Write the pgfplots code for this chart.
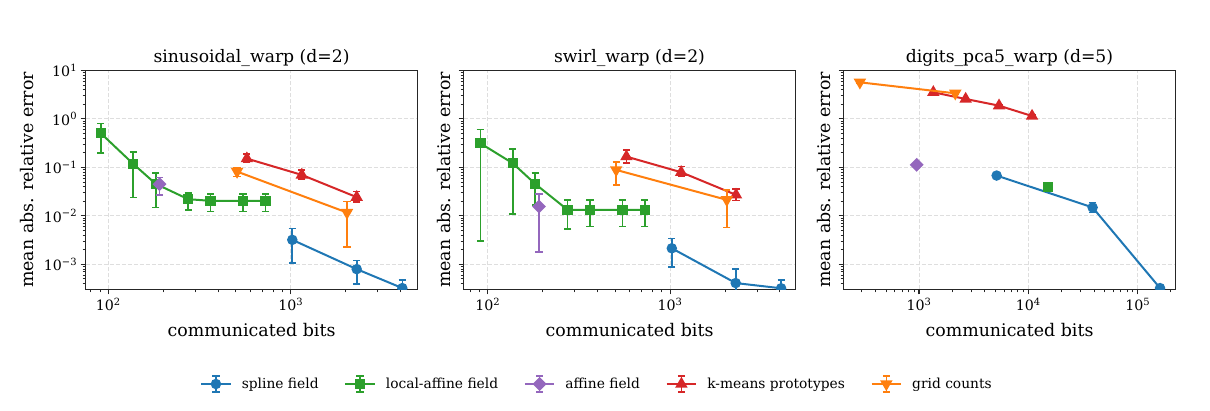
\documentclass[border=0pt]{standalone}
\usepackage{fontspec}
\setmainfont{DejaVu Serif}
\usepackage{pgfplots}
\pgfplotsset{compat=1.18}
\usepackage{pgfplotstable}

\definecolor{cblue}{HTML}{1F77B4}
\definecolor{corange}{HTML}{FF7F0E}
\definecolor{cgreen}{HTML}{2CA02C}
\definecolor{cred}{HTML}{D62728}
\definecolor{cpurple}{HTML}{9467BD}

% ---------- panel 1: sinusoidal_warp ----------
\pgfplotstableread{
x y ep em
1020 0.0032 0.00228 0.00214
2300 0.000795 0.000405 0.000405
4090 0.000323 0.000157 0.000157
}\Ablue
\pgfplotstableread{
x y ep em
91 0.506 0.304 0.310
137 0.118 0.087 0.094
182 0.0457 0.0301 0.0308
274 0.0221 0.0072 0.0088
364 0.0204 0.0076 0.0081
547 0.0204 0.0076 0.0081
727 0.0204 0.0076 0.0081
}\Agreen
\pgfplotstableread{
x y ep em
191 0.045 0.0167 0.018
}\Apurple
\pgfplotstableread{
x y ep em
575 0.152 0.035 0.022
1150 0.070 0.0188 0.013
2300 0.0243 0.0075 0.0052
}\Ared
\pgfplotstableread{
x y ep em
508 0.082 0.014 0.0173
2035 0.0117 0.0081 0.0094
}\Aorange

% ---------- panel 2: swirl_warp ----------
\pgfplotstableread{
x y ep em
1022 0.00214 0.00129 0.00125
2291 0.00041 0.00039 0.00039
4065 0.00032 0.00015 0.00015
}\Bblue
\pgfplotstableread{
x y ep em
91 0.315 0.295 0.312
137 0.122 0.115 0.111
182 0.0457 0.0303 0.029
274 0.0133 0.0077 0.0079
364 0.0133 0.0077 0.0073
547 0.0133 0.0077 0.0073
727 0.0133 0.0077 0.0073
}\Bgreen
\pgfplotstableread{
x y ep em
191 0.0156 0.0128 0.0138
}\Bpurple
\pgfplotstableread{
x y ep em
576 0.167 0.063 0.045
1150 0.0795 0.0245 0.0127
2300 0.0271 0.0089 0.0064
}\Bred
\pgfplotstableread{
x y ep em
506 0.0888 0.039 0.045
2046 0.0214 0.0126 0.0156
}\Borange

% ---------- panel 3: digits_pca5_warp ----------
\pgfplotstableread{
x y ep em
5128 0.0679 0.002 0.002
38700 0.0149 0.0041 0.0032
160000 0.000323 0.00003 0.00003
}\Cblue
\pgfplotstableread{
x y ep em
15150 0.0396 0.002 0.002
}\Cgreen
\pgfplotstableread{
x y ep em
952 0.113 0.004 0.004
}\Cpurple
\pgfplotstableread{
x y ep em
1352 3.55 0.12 0.12
2671 2.58 0.08 0.08
5394 1.88 0.06 0.06
10810 1.15 0.04 0.04
}\Cred
\pgfplotstableread{
x y ep em
288 5.70 0.15 0.15
2147 3.38 0.12 0.12
}\Corange

\pgfplotsset{
  ser/.style={line width=2pt, mark size=4.2pt, solid,
    /pgfplots/error bars/y dir=both, /pgfplots/error bars/y explicit,
    /pgfplots/error bars/error bar style={line width=1.6pt, solid},
    /pgfplots/error bars/error mark options={rotate=90, line width=1.6pt, mark size=3.6pt}},
  sblue/.style={ser, color=cblue, mark=*},
  sgreen/.style={ser, color=cgreen, mark=square*},
  spurple/.style={ser, color=cpurple, mark=square*, mark options={rotate=45}, mark size=3.9pt},
  sred/.style={ser, color=cred, mark=triangle*, mark size=5.2pt},
  sorange/.style={ser, color=corange, mark=triangle*, mark options={rotate=180}, mark size=5.2pt},
}

\begin{document}
\begin{tikzpicture}
\path[use as bounding box] (0,0) rectangle (1210pt,411pt);

\begin{axis}[at={(85.5pt,121.5pt)}, anchor=south west,
    xmode=log, ymode=log,
    scale only axis, width=332pt, height=219pt,
    ymin=3.02e-4, ymax=10,
    axis line style={line width=1.1pt, black!85},
    tick align=outside, tick pos=left,
    major tick length=4.9pt, minor tick length=2.8pt,
    major tick style={line width=1.1pt, black!85},
    minor tick style={line width=0.8pt, black!85},
    grid=major,
    major grid style={dash pattern=on 4pt off 2pt, line width=1pt, black!13},
    ytick={1e-3,1e-2,1e-1,1,10},
    minor ytick={4e-4,5e-4,6e-4,7e-4,8e-4,9e-4,2e-3,3e-3,4e-3,5e-3,6e-3,7e-3,8e-3,9e-3,2e-2,3e-2,4e-2,5e-2,6e-2,7e-2,8e-2,9e-2,0.2,0.3,0.4,0.5,0.6,0.7,0.8,0.9,2,3,4,5,6,7,8,9},
    tick label style={font=\fontsize{14.2}{17}\selectfont},
    title style={font=\fontsize{17.2}{21}\selectfont, at={(axis description cs:0.5,1)}, anchor=south, yshift=-2.5pt, inner sep=0pt},
    xlabel={communicated bits}, ylabel={mean abs. relative error},
    label style={font=\fontsize{17.4}{21}\selectfont},
    xlabel style={at={(axis description cs:0.5,-0.185)}, anchor=center, inner sep=0pt},
    clip marker paths=true,
  title={sinusoidal\_warp (d=2)},
  xmin=75.0, xmax=4955,
  xtick={100,1000}, xticklabels={10\textsuperscript{2},10\textsuperscript{3}},
  minor xtick={80,90,200,300,400,500,600,700,800,900,2000,3000,4000},
  yticklabels={10\textsuperscript{−3},10\textsuperscript{−2},10\textsuperscript{−1},10\textsuperscript{0},10\textsuperscript{1}},
  ylabel style={at={(axis description cs:-0.176,0.5)}, anchor=center, inner sep=0pt},
]
\addplot[sblue] table[x=x,y=y,y error plus=ep,y error minus=em]{\Ablue};
\addplot[sgreen] table[x=x,y=y,y error plus=ep,y error minus=em]{\Agreen};
\addplot[spurple] table[x=x,y=y,y error plus=ep,y error minus=em]{\Apurple};
\addplot[sred] table[x=x,y=y,y error plus=ep,y error minus=em]{\Ared};
\addplot[sorange] table[x=x,y=y,y error plus=ep,y error minus=em]{\Aorange};
\end{axis}

\begin{axis}[at={(463.5pt,121.5pt)}, anchor=south west,
    xmode=log, ymode=log,
    scale only axis, width=332pt, height=219pt,
    ymin=3.02e-4, ymax=10,
    axis line style={line width=1.1pt, black!85},
    tick align=outside, tick pos=left,
    major tick length=4.9pt, minor tick length=2.8pt,
    major tick style={line width=1.1pt, black!85},
    minor tick style={line width=0.8pt, black!85},
    grid=major,
    major grid style={dash pattern=on 4pt off 2pt, line width=1pt, black!13},
    ytick={1e-3,1e-2,1e-1,1,10},
    minor ytick={4e-4,5e-4,6e-4,7e-4,8e-4,9e-4,2e-3,3e-3,4e-3,5e-3,6e-3,7e-3,8e-3,9e-3,2e-2,3e-2,4e-2,5e-2,6e-2,7e-2,8e-2,9e-2,0.2,0.3,0.4,0.5,0.6,0.7,0.8,0.9,2,3,4,5,6,7,8,9},
    tick label style={font=\fontsize{14.2}{17}\selectfont},
    title style={font=\fontsize{17.2}{21}\selectfont, at={(axis description cs:0.5,1)}, anchor=south, yshift=-2.5pt, inner sep=0pt},
    xlabel={communicated bits}, ylabel={mean abs. relative error},
    label style={font=\fontsize{17.4}{21}\selectfont},
    xlabel style={at={(axis description cs:0.5,-0.185)}, anchor=center, inner sep=0pt},
    clip marker paths=true,
  title={swirl\_warp (d=2)},
  xmin=73.6, xmax=4875,
  xtick={100,1000}, xticklabels={10\textsuperscript{2},10\textsuperscript{3}},
  minor xtick={80,90,200,300,400,500,600,700,800,900,2000,3000,4000},
  yticklabels={{},{},{},{},{}},
  ylabel style={at={(axis description cs:-0.0587,0.5)}, anchor=center, inner sep=0pt},
  legend image code/.code={
      \draw[#1, line width=1.6pt] (14.85pt,-8pt) -- (14.85pt,8pt);
      \draw[#1, line width=1.6pt] (11.25pt,-8pt) -- (18.45pt,-8pt) (11.25pt,8pt) -- (18.45pt,8pt);
      \draw[#1] (0pt,0pt) -- (29.7pt,0pt);
      \draw[#1] plot coordinates {(14.85pt,0pt)};
  },
  legend columns=5,
  legend style={at={(axis description cs:0.3988,-0.4315)}, anchor=center, draw=none, fill=none, inner sep=0pt,
    font=\fontsize{13.8}{16}\selectfont, nodes={inner sep=0pt},
    /tikz/every odd column/.append style={column sep=10pt},
    /tikz/every even column/.append style={column sep=25.6pt}},
]
\addplot[sblue] table[x=x,y=y,y error plus=ep,y error minus=em]{\Bblue};
\addlegendentry{spline field}
\addplot[sgreen] table[x=x,y=y,y error plus=ep,y error minus=em]{\Bgreen};
\addlegendentry{local-affine field}
\addplot[spurple] table[x=x,y=y,y error plus=ep,y error minus=em]{\Bpurple};
\addlegendentry{affine field}
\addplot[sred] table[x=x,y=y,y error plus=ep,y error minus=em]{\Bred};
\addlegendentry{k-means prototypes}
\addplot[sorange] table[x=x,y=y,y error plus=ep,y error minus=em]{\Borange};
\addlegendentry{grid counts}
\end{axis}

\begin{axis}[at={(843.5pt,121.5pt)}, anchor=south west,
    xmode=log, ymode=log,
    scale only axis, width=332pt, height=219pt,
    ymin=3.02e-4, ymax=10,
    axis line style={line width=1.1pt, black!85},
    tick align=outside, tick pos=left,
    major tick length=4.9pt, minor tick length=2.8pt,
    major tick style={line width=1.1pt, black!85},
    minor tick style={line width=0.8pt, black!85},
    grid=major,
    major grid style={dash pattern=on 4pt off 2pt, line width=1pt, black!13},
    ytick={1e-3,1e-2,1e-1,1,10},
    minor ytick={4e-4,5e-4,6e-4,7e-4,8e-4,9e-4,2e-3,3e-3,4e-3,5e-3,6e-3,7e-3,8e-3,9e-3,2e-2,3e-2,4e-2,5e-2,6e-2,7e-2,8e-2,9e-2,0.2,0.3,0.4,0.5,0.6,0.7,0.8,0.9,2,3,4,5,6,7,8,9},
    tick label style={font=\fontsize{14.2}{17}\selectfont},
    title style={font=\fontsize{17.2}{21}\selectfont, at={(axis description cs:0.5,1)}, anchor=south, yshift=-2.5pt, inner sep=0pt},
    xlabel={communicated bits}, ylabel={mean abs. relative error},
    label style={font=\fontsize{17.4}{21}\selectfont},
    xlabel style={at={(axis description cs:0.5,-0.185)}, anchor=center, inner sep=0pt},
    clip marker paths=true,
  title={digits\_pca5\_warp (d=5)},
  xmin=204, xmax=2.217e5,
  xtick={1000,10000,100000}, xticklabels={10\textsuperscript{3},10\textsuperscript{4},10\textsuperscript{5}},
  minor xtick={300,400,500,600,700,800,900,2000,3000,4000,5000,6000,7000,8000,9000,20000,30000,40000,50000,60000,70000,80000,90000,200000},
  yticklabels={{},{},{},{},{}},
  ylabel style={at={(axis description cs:-0.0587,0.5)}, anchor=center, inner sep=0pt},
]
\addplot[sblue] table[x=x,y=y,y error plus=ep,y error minus=em]{\Cblue};
\addplot[sgreen] table[x=x,y=y,y error plus=ep,y error minus=em]{\Cgreen};
\addplot[spurple] table[x=x,y=y,y error plus=ep,y error minus=em]{\Cpurple};
\addplot[sred] table[x=x,y=y,y error plus=ep,y error minus=em]{\Cred};
\addplot[sorange] table[x=x,y=y,y error plus=ep,y error minus=em]{\Corange};
\end{axis}
\end{tikzpicture}
\end{document}
